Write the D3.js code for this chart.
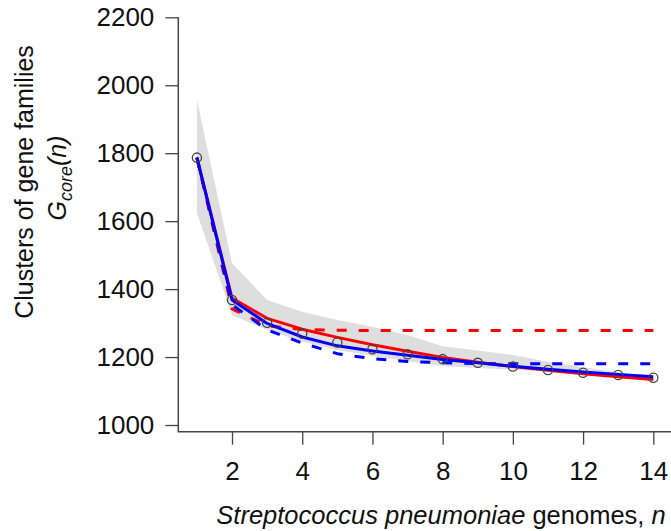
<!DOCTYPE html>
<html>
<head>
<meta charset="utf-8">
<script src="https://cdnjs.cloudflare.com/ajax/libs/d3/7.8.5/d3.min.js"></script>
<style>
    body { margin: 0; background: #fff; }
    svg text { font-family: "Liberation Sans", Arial, Helvetica, sans-serif; fill: #111; }
</style>
</head>
<body>
<div id="chart"></div>
<script>

// genomes sampled
var genomes = [1, 2, 3, 4, 5, 6, 7, 8, 9, 10, 11, 12, 13, 14];

// mean core size (open circles)
var coreMean = [1787, 1368, 1301, 1269, 1243, 1223, 1208, 1194, 1183, 1172, 1162, 1154, 1147, 1139];

// range of all combinations (grey band)
var bandUpper = [1957, 1476, 1368, 1333, 1309, 1289, 1265, 1232, 1219, 1206, 1186, 1170, 1155, 1139];
var bandLower = [1624, 1324, 1280, 1245, 1221, 1203, 1188, 1174, 1168, 1163, 1157, 1150, 1142, 1139];

// fitted curves
var redSolid  = [1787, 1374, 1314, 1282, 1258, 1236, 1217, 1199, 1185, 1172, 1161, 1151, 1142, 1134];
var blueSolid = [1787, 1368, 1299, 1259, 1233, 1218, 1205, 1193, 1183, 1173, 1164, 1156, 1149, 1142];
var redDashed  = [1787, 1342, 1292, 1281, 1279, 1278, 1278, 1278, 1278, 1278, 1278, 1278, 1278, 1278];
var blueDashed = [1787, 1354, 1280, 1241, 1210, 1195, 1187, 1183, 1181, 1180, 1180, 1180, 1180, 1180];

var yTicks = [1000, 1200, 1400, 1600, 1800, 2000, 2200];
var xTicks = [2, 4, 6, 8, 10, 12, 14];

var width = 671, height = 531;
var fontSize = 25;
var tickFont = 26;

var svg = d3.select("#chart").append("svg")
    .attr("width", width)
    .attr("height", height);

var x = d3.scaleLinear()
    .domain([1, 14])
    .range([196.9, 653.3]);

var y = d3.scaleLinear()
    .domain([1000, 2200])
    .range([425, 17.3]);

var axisX0 = 178.3;   // left box line
var axisY0 = 431.7;   // bottom box line

var rows = genomes.map(function(n, i) {
    return {
        n: n, mean: coreMean[i], up: bandUpper[i], lo: bandLower[i],
        rs: redSolid[i], bs: blueSolid[i], rd: redDashed[i], bd: blueDashed[i]
    };
});

// grey band
var area = d3.area()
    .x(function(d) { return x(d.n); })
    .y0(function(d) { return y(d.lo); })
    .y1(function(d) { return y(d.up); });

svg.append("path")
    .datum(rows)
    .attr("d", area)
    .attr("fill", "#dedede");

function drawLine(key, color, dashed) {
    var line = d3.line()
        .x(function(d) { return x(d.n); })
        .y(function(d) { return y(d[key]); });
    svg.append("path")
        .datum(rows)
        .attr("d", line)
        .attr("fill", "none")
        .attr("stroke", color)
        .attr("stroke-width", 3)
        .attr("stroke-dasharray", dashed ? "10,12" : null)
        .attr("stroke-linejoin", "round");
}

drawLine("rd", "#ff0000", true);
drawLine("bd", "#0000ff", true);
drawLine("rs", "#ff0000", false);
drawLine("bs", "#0000ff", false);

// observed means
svg.selectAll("circle.obs")
    .data(rows)
    .enter()
    .append("circle")
    .attr("class", "obs")
    .attr("cx", function(d) { return x(d.n); })
    .attr("cy", function(d) { return y(d.mean); })
    .attr("r", 4.6)
    .attr("fill", "none")
    .attr("stroke", "#444")
    .attr("stroke-width", 1.3);

// axes
var yAxis = d3.axisLeft(y)
    .tickValues(yTicks)
    .tickFormat(d3.format("d"))
    .tickSize(13)
    .tickPadding(11);

var gy = svg.append("g")
    .attr("transform", "translate(" + axisX0 + ",0)")
    .call(yAxis);

var xAxis = d3.axisBottom(x)
    .tickValues(xTicks)
    .tickFormat(d3.format("d"))
    .tickSize(13)
    .tickPadding(17);

var gx = svg.append("g")
    .attr("transform", "translate(0," + axisY0 + ")")
    .call(xAxis);

[gx, gy].forEach(function(g) {
    g.select(".domain").remove();
    g.selectAll(".tick line").attr("stroke", "#444").attr("stroke-width", 1.3);
    g.selectAll(".tick text")
        .style("font-size", tickFont + "px")
        .style("font-family", "'Liberation Sans', Arial, sans-serif")
        .attr("fill", "#111");
});

// box (left + bottom)
svg.append("path")
    .attr("d", "M" + axisX0 + "," + y(2200) + "V" + axisY0 + "H" + width)
    .attr("fill", "none")
    .attr("stroke", "#444")
    .attr("stroke-width", 1.5);

// x label
var xl = svg.append("text")
    .attr("x", 441)
    .attr("y", 524)
    .attr("text-anchor", "middle")
    .style("font-size", "25.5px");
xl.append("tspan").style("font-style", "italic").text("Streptococcus pneumoniae");
xl.append("tspan").text(" genomes, ");
xl.append("tspan").style("font-style", "italic").text("n");

// y labels
svg.append("text")
    .attr("transform", "translate(33,182) rotate(-90)")
    .attr("text-anchor", "middle")
    .style("font-size", fontSize + "px")
    .text("Clusters of gene families");

var yl = svg.append("text")
    .attr("transform", "translate(66,178) rotate(-90)")
    .attr("text-anchor", "middle")
    .style("font-size", fontSize + "px")
    .style("font-style", "italic");
yl.append("tspan").text("G");
yl.append("tspan").attr("dy", 6).style("font-size", "18px").text("core");
yl.append("tspan").attr("dy", -6).text("(n)");

</script>
</body>
</html>
